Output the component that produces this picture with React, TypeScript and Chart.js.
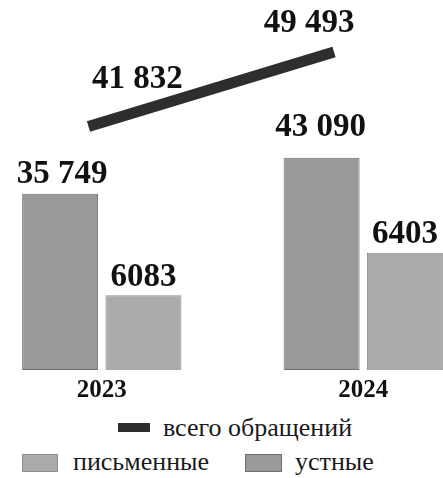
import React, { useEffect, useRef } from "react";
import { Chart, registerables } from "chart.js";

Chart.register(...registerables);

// ---- data ----
const categories = ["2023", "2024"];
const oralValues = [35749, 43090]; // устные
const writtenValues = [6083, 6403]; // письменные
const totalValues = [41832, 49493]; // всего обращений
const seriesNames = ["устные", "письменные", "всего обращений"];

// ---- styles ----
const ORAL_FILL = "#9a9a9a";
const ORAL_BORDER = "#6f6f6f";
const WRITTEN_FILL = "#ababab";
const WRITTEN_BORDER = "#8c8c8c";
const LINE_COLOR = "#2e2e2e";
const SERIF = "'Liberation Serif', 'Times New Roman', 'DejaVu Serif', serif";

const CANVAS_W = 523;
const CANVAS_H = 404;
const PLOT_TOP = 25;
const PLOT_BOTTOM_GAP = 35; // space below the plot area (x tick labels)

// label placement (style): per dataset, per point [dx, lift]
const barLabelPlacement: number[][][] = [
  [[2, 11], [-1, 22]],
  [[0, 9], [0, 10]],
];
const lineLabelPlacement: number[][][] = [[[49, 39], [-25, 20]]];

function fmt(n: number): string {
  const s = String(n);
  if (s.length <= 4) return s;
  return s.replace(/\B(?=(\d{3})+(?!\d))/g, " ");
}

function makeLabelPlugin(placement: number[][][]) {
  return {
    id: "valueLabels",
    afterDatasetsDraw(chart: any) {
      const ctx = chart.ctx;
      ctx.save();
      ctx.font = `bold 33px ${SERIF}`;
      ctx.fillStyle = "#111";
      ctx.textAlign = "center";
      ctx.textBaseline = "alphabetic";
      chart.data.datasets.forEach((ds: any, di: number) => {
        const meta = chart.getDatasetMeta(di);
        meta.data.forEach((el: any, i: number) => {
          const raw = ds.data[i];
          const v = typeof raw === "number" ? raw : raw.y;
          const [dx, lift] = placement[di][i];
          ctx.fillText(fmt(v), el.x + dx, el.y - lift);
        });
      });
      ctx.restore();
    },
  };
}

function LegendBox({ left, top, w, h, bg, border }: any) {
  return (
    <div
      style={{
        position: "absolute",
        left,
        top,
        width: w,
        height: h,
        background: bg,
        boxSizing: "border-box",
        border: border ? `1px solid ${border}` : "none",
      }}
    />
  );
}

function LegendText({ left, top, children }: any) {
  return (
    <div
      style={{
        position: "absolute",
        left,
        top,
        font: `26px ${SERIF}`,
        lineHeight: "26px",
        color: "#1a1a1a",
        whiteSpace: "nowrap",
      }}
    >
      {children}
    </div>
  );
}

export default function App() {
  const barRef = useRef<HTMLCanvasElement | null>(null);
  const lineRef = useRef<HTMLCanvasElement | null>(null);

  useEffect(() => {
    if (!barRef.current || !lineRef.current) return;
    const barChart = new Chart(barRef.current, {
      type: "bar",
      data: {
        labels: categories,
        datasets: [
          {
            label: seriesNames[0],
            data: oralValues,
            backgroundColor: ORAL_FILL,
            borderColor: ORAL_BORDER,
            borderWidth: 1,
            borderSkipped: false,
            yAxisID: "y",
            barPercentage: 0.912,
            categoryPercentage: 0.637,
          },
          {
            label: seriesNames[1],
            data: writtenValues,
            backgroundColor: WRITTEN_FILL,
            borderColor: WRITTEN_BORDER,
            borderWidth: 1,
            borderSkipped: false,
            yAxisID: "y2",
            barPercentage: 0.912,
            categoryPercentage: 0.637,
          },
        ],
      },
      options: {
        animation: false,
        responsive: true,
        maintainAspectRatio: false,
        layout: { padding: { top: PLOT_TOP, left: 0, right: 0, bottom: 0 } },
        plugins: {
          legend: { display: false },
          tooltip: { enabled: false },
        },
        scales: {
          x: {
            type: "category",
            offset: true,
            grid: { display: false },
            border: { display: false },
            ticks: {
              color: "#111",
              padding: -2,
              font: { family: SERIF, size: 25, weight: "bold" },
            },
          },
          y: { display: false, min: 0, max: 70000 },
          y2: { display: false, min: 5520, max: 8120 },
        },
      } as any,
      plugins: [makeLabelPlugin(barLabelPlacement)],
    });

    const lineChart = new Chart(lineRef.current, {
      type: "line",
      data: {
        datasets: [
          {
            label: seriesNames[2],
            data: totalValues.map((v, i) => ({ x: i, y: v })),
            borderColor: LINE_COLOR,
            backgroundColor: LINE_COLOR,
            borderWidth: 11,
            borderCapStyle: "butt",
            pointRadius: 0,
            tension: 0,
          } as any,
        ],
      },
      options: {
        animation: false,
        responsive: true,
        maintainAspectRatio: false,
        layout: {
          padding: { top: PLOT_TOP, left: 0, right: 0, bottom: PLOT_BOTTOM_GAP },
        },
        plugins: {
          legend: { display: false },
          tooltip: { enabled: false },
        },
        scales: {
          x: { type: "linear", display: false, offset: false, min: -0.4786, max: 1.6517 },
          y: { display: false, min: 16900, max: 52270 },
        },
      } as any,
      plugins: [makeLabelPlugin(lineLabelPlacement)],
    });

    return () => {
      barChart.destroy();
      lineChart.destroy();
    };
  }, []);

  const layer: React.CSSProperties = {
    position: "absolute",
    left: -29,
    top: 0,
    width: CANVAS_W,
    height: CANVAS_H,
  };

  return (
    <div
      style={{
        position: "fixed",
        left: 0,
        top: 0,
        width: 443,
        height: 478,
        overflow: "hidden",
        background: "#fff",
      }}
    >
      <div style={layer}>
        <canvas ref={barRef} />
      </div>
      <div style={layer}>
        <canvas ref={lineRef} />
      </div>
      <LegendBox left={118} top={423} w={32} h={9} bg={LINE_COLOR} />
      <LegendText left={163} top={415}>{seriesNames[2]}</LegendText>
      <LegendBox left={22} top={454} w={36} h={18} bg={WRITTEN_FILL} border={WRITTEN_BORDER} />
      <LegendText left={73} top={449}>{seriesNames[1]}</LegendText>
      <LegendBox left={245} top={454} w={37} h={18} bg={ORAL_FILL} border={ORAL_BORDER} />
      <LegendText left={295} top={449}>{seriesNames[0]}</LegendText>
    </div>
  );
}
